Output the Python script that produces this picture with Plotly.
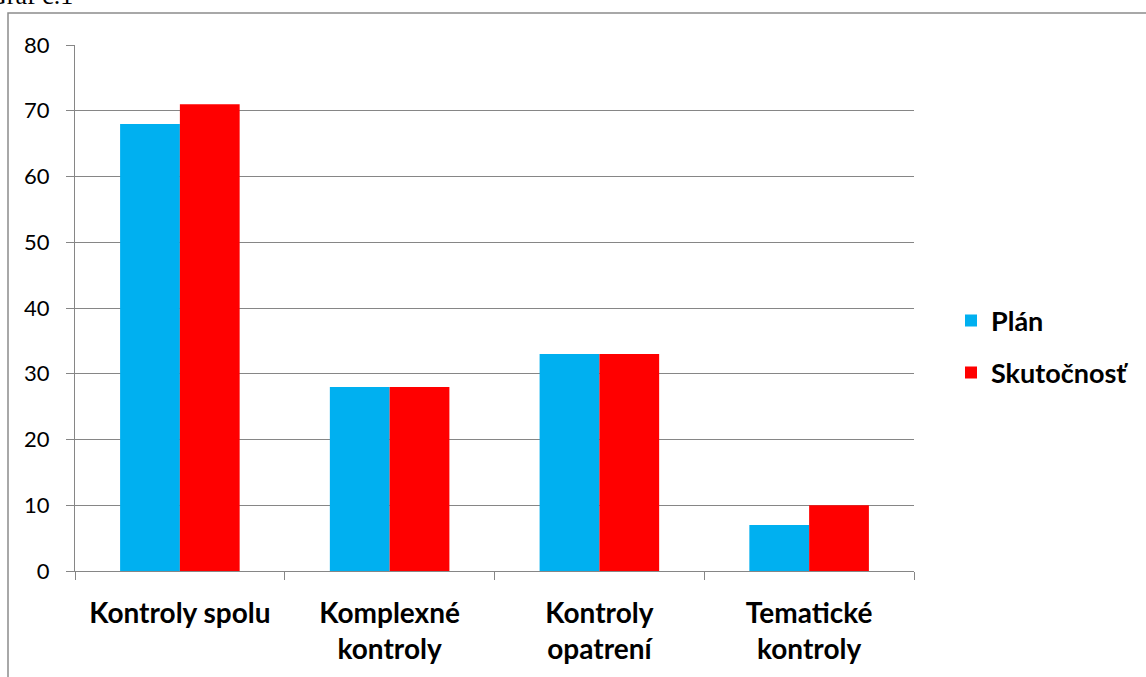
import plotly.graph_objects as go

categories = ["Kontroly spolu", "Komplexné<br>kontroly", "Kontroly<br>opatrení", "Tematické<br>kontroly"]
plan = [68, 28, 33, 7]
skutocnost = [71, 28, 33, 10]
y_ticks = [0, 10, 20, 30, 40, 50, 60, 70, 80]

grid = "#868686"
font_family = "Lato, 'Open Sans', sans-serif"

fig = go.Figure()
fig.add_trace(go.Bar(x=categories, y=plan, name="Plán", marker_color="#00B0F0",
                     marker_line_width=0, legendgroup="a"))
fig.add_trace(go.Bar(x=categories, y=skutocnost, name="Skutočnosť", marker_color="#FF0000",
                     marker_line_width=0, legendgroup="b"))

fig.update_layout(
    width=1146, height=677,
    margin=dict(l=75, r=232, t=45, b=104),
    paper_bgcolor="white", plot_bgcolor="white",
    barmode="group", bargap=0.43, bargroupgap=0,
    font=dict(family=font_family, color="black"),
    legend=dict(x=1.0 + 37 / 839, xanchor="left", y=0.426, yanchor="middle",
                font=dict(size=27, family=font_family, weight="bold"),
                tracegroupgap=14, itemwidth=30),
    showlegend=True,
)
fig.update_xaxes(
    type="category", tickson="boundaries", ticks="outside", ticklen=8,
    tickcolor=grid, showline=True, linecolor=grid, linewidth=1,
    tickfont=dict(size=28, family=font_family, weight="bold"),
    ticklabelstandoff=17, showgrid=False,
)
fig.update_yaxes(
    range=[0, 80], tickvals=y_ticks, ticks="outside", ticklen=8, tickcolor=grid,
    showline=True, linecolor=grid, linewidth=1,
    showgrid=True, gridcolor=grid, gridwidth=1,
    tickfont=dict(size=22, family=font_family), ticklabelstandoff=12, zeroline=False,
)
# outer chart border (extends past the window right/bottom)
fig.add_shape(type="rect", xref="paper", yref="paper",
              x0=-67 / 839, x1=1.5, y0=-0.5, y1=1 + 32 / 528,
              line=dict(color="#8c8c8c", width=1.5), fillcolor="rgba(0,0,0,0)", layer="below")
# caption clipped at top of page
fig.add_annotation(text="Graf č.1", xref="paper", yref="paper",
                   x=-89 / 839, xanchor="left", y=1 + 33 / 528, yanchor="bottom",
                   showarrow=False, font=dict(size=26, family="Liberation Serif", color="black"))

fig.write_html("out.html", config={"displayModeBar": False},
               post_script="document.body.style.margin='0';")
